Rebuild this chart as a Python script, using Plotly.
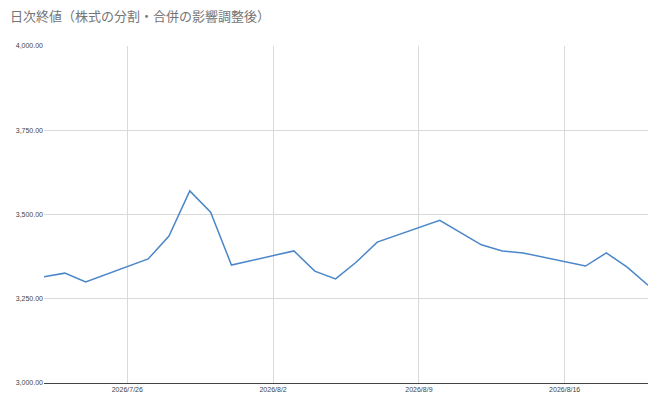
import plotly.graph_objects as go

dates = ["2026-07-22", "2026-07-23", "2026-07-24", "2026-07-27", "2026-07-28", "2026-07-29",
         "2026-07-30", "2026-07-31", "2026-08-03", "2026-08-04", "2026-08-05", "2026-08-06",
         "2026-08-07", "2026-08-10", "2026-08-12", "2026-08-13", "2026-08-14", "2026-08-17",
         "2026-08-18", "2026-08-19", "2026-08-20"]
values = [3315, 3326, 3300, 3368, 3436, 3570, 3507, 3350, 3392, 3332, 3309, 3359,
          3418, 3483, 3410, 3392, 3386, 3347, 3386, 3344, 3290]

tick_dates = ["2026-07-26", "2026-08-02", "2026-08-09", "2026-08-16"]
tick_text = ["2026/7/26", "2026/8/2", "2026/8/9", "2026/8/16"]

fig = go.Figure(go.Scatter(x=dates, y=values, mode="lines",
                           line=dict(color="#4a86c8", width=1.5)))

fig.update_layout(
    width=658, height=402,
    paper_bgcolor="white", plot_bgcolor="white",
    margin=dict(l=36, r=18, t=38, b=27),
    title=dict(text="日次終値（株式の分割・合併の影響調整後）", x=0.003, xanchor="left",
               y=0.99, yanchor="top",
               font=dict(size=13, color="#757575", family="Noto Sans CJK JP")),
    font=dict(family="Arial, Liberation Sans", size=7, color="#444"),
    showlegend=False,
)
fig.update_xaxes(range=["2026-07-22", "2026-08-20"], tickvals=tick_dates, ticktext=tick_text,
                 showgrid=True, gridcolor="#d9d9d9", zeroline=False, ticks="",
                 showline=True, linecolor="#444", automargin=False)
fig.update_yaxes(range=[3000, 4000], tickvals=[3000, 3250, 3500, 3750, 4000],
                 tickformat=",.2f", showgrid=True, gridcolor="#d9d9d9", zeroline=False,
                 automargin=False)

fig.write_html("out.html")
